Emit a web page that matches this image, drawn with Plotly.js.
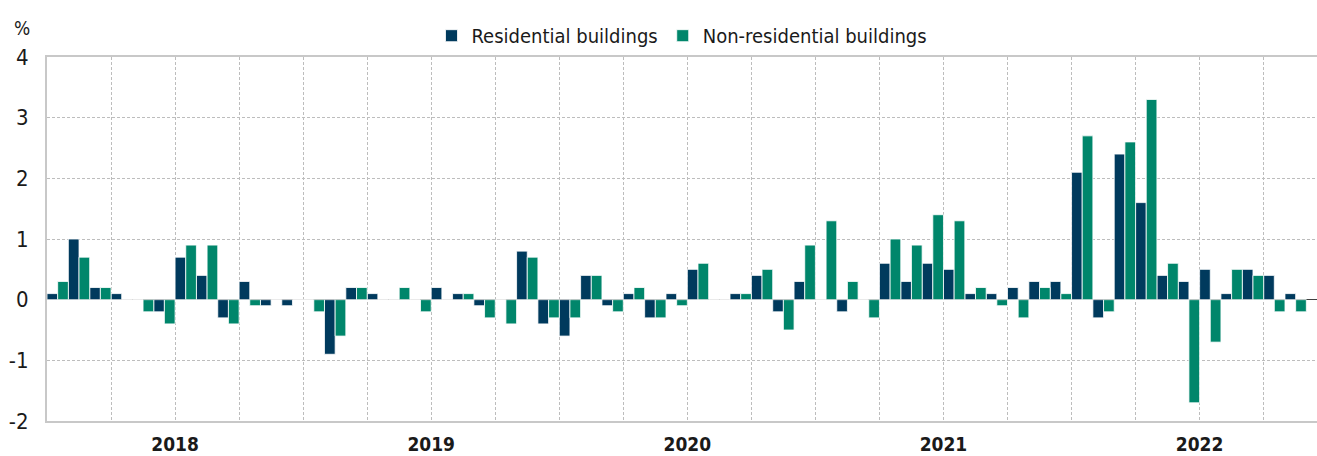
<!DOCTYPE html>
<html>
<head>
<meta charset="utf-8">
<script src="https://cdn.plot.ly/plotly-3.0.1.min.js"></script>
<style>
  html, body { margin: 0; padding: 0; background: #ffffff; }
  #chart { width: 1317px; height: 456px; }
</style>
</head>
<body>
<div id="chart"></div>
<script>
// Monthly categories (year-month)
const categories = [
  "2017-07","2017-08","2017-09","2017-10","2017-11","2017-12",
  "2018-01","2018-02","2018-03","2018-04","2018-05","2018-06",
  "2018-07","2018-08","2018-09","2018-10","2018-11","2018-12",
  "2019-01","2019-02","2019-03","2019-04","2019-05","2019-06",
  "2019-07","2019-08","2019-09","2019-10","2019-11","2019-12",
  "2020-01","2020-02","2020-03","2020-04","2020-05","2020-06",
  "2020-07","2020-08","2020-09","2020-10","2020-11","2020-12",
  "2021-01","2021-02","2021-03","2021-04","2021-05","2021-06",
  "2021-07","2021-08","2021-09","2021-10","2021-11","2021-12",
  "2022-01","2022-02","2022-03","2022-04","2022-05"
];

// Residential buildings (%)
const residential = [
  0.1, 1.0, 0.2, 0.1, 0.0, -0.2,
  0.7, 0.4, -0.3, 0.3, -0.1, -0.1,
  0.0, -0.9, 0.2, 0.1, 0.0, 0.0,
  0.2, 0.1, -0.1, 0.0, 0.8, -0.4,
  -0.6, 0.4, -0.1, 0.1, -0.3, 0.1,
  0.5, 0.0, 0.1, 0.4, -0.2, 0.3,
  0.0, -0.2, 0.0, 0.6, 0.3, 0.6,
  0.5, 0.1, 0.1, 0.2, 0.3, 0.3,
  2.1, -0.3, 2.4, 1.6, 0.4, 0.3,
  0.5, 0.1, 0.5, 0.4, 0.1
];

// Non-residential buildings (%)
const nonResidential = [
  0.3, 0.7, 0.2, 0.0, -0.2, -0.4,
  0.9, 0.9, -0.4, -0.1, 0.0, 0.0,
  -0.2, -0.6, 0.2, 0.0, 0.2, -0.2,
  0.0, 0.1, -0.3, -0.4, 0.7, -0.3,
  -0.3, 0.4, -0.2, 0.2, -0.3, -0.1,
  0.6, 0.0, 0.1, 0.5, -0.5, 0.9,
  1.3, 0.3, -0.3, 1.0, 0.9, 1.4,
  1.3, 0.2, -0.1, -0.3, 0.2, 0.1,
  2.7, -0.2, 2.6, 3.3, 0.6, -1.7,
  -0.7, 0.5, 0.4, -0.2, -0.2
];

// Tick labels
const yearLabels = ["2018", "2019", "2020", "2021", "2022"];
const yTickValues = [-2, -1, 0, 1, 2, 3, 4];
const yTickLabels = ["-2", "-1", "0", "1", "2", "3", "4"];
const seriesNames = ["Residential buildings", "Non-residential buildings"];

const FONT = '"Liberation Sans Narrow", "Arial Narrow", "DejaVu Sans Condensed", "Liberation Sans", sans-serif';

const xIdx = categories.map((c, i) => i);

// quarter boundaries for gridlines, year labels at January boundaries
const tickvals = [];
const ticktext = [];
categories.forEach((c, i) => {
  const m = c.slice(5);
  if (m === "01" || m === "04" || m === "07" || m === "10") {
    tickvals.push(i - 0.5);
    const y = c.slice(0, 4);
    ticktext.push(m === "01" && yearLabels.includes(y) ? "<b>" + y + "</b>" : "");
  }
});

const traces = [
  {
    type: "bar",
    name: seriesNames[0],
    x: xIdx,
    y: residential,
    marker: { color: "#003a5d", line: { color: "#ffffff", width: 0.8 } },
    hoverinfo: "skip"
  },
  {
    type: "bar",
    name: seriesNames[1],
    x: xIdx,
    y: nonResidential,
    marker: { color: "#00866b", line: { color: "#ffffff", width: 0.8 } },
    hoverinfo: "skip"
  }
];

const layout = {
  width: 1317,
  height: 456,
  margin: { l: 47, r: 0, t: 57, b: 35, pad: 0 },
  paper_bgcolor: "#ffffff",
  plot_bgcolor: "#ffffff",
  font: { family: FONT, size: 20, color: "#1a1a1a" },
  barmode: "group",
  bargap: 0,
  bargroupgap: 0,
  showlegend: true,
  legend: {
    orientation: "h",
    x: 0.5,
    xanchor: "center",
    y: 1.005,
    yanchor: "bottom",
    xref: "paper",
    yref: "paper",
    font: { family: FONT, size: 20, color: "#1a1a1a" },
    bgcolor: "rgba(0,0,0,0)",
    traceorder: "normal",
    itemwidth: 30
  },
  xaxis: {
    type: "linear",
    range: [-0.5, 59.0],
    tickmode: "array",
    tickvals: tickvals,
    ticktext: ticktext,
    ticks: "",
    showgrid: true,
    gridcolor: "#bdbdbd",
    gridwidth: 1,
    griddash: "3px,2px",
    zeroline: false,
    showline: true,
    linecolor: "#c8c8c8",
    linewidth: 2,
    mirror: true,
    tickfont: { family: FONT, size: 19, color: "#1a1a1a" },
    ticklabelstandoff: 5
  },
  yaxis: {
    range: [-2, 4],
    tickmode: "array",
    tickvals: yTickValues,
    ticktext: yTickLabels,
    ticks: "",
    showgrid: true,
    gridcolor: "#bdbdbd",
    gridwidth: 1,
    griddash: "3px,2px",
    zeroline: true,
    zerolinecolor: "#404040",
    zerolinewidth: 1.5,
    showline: true,
    linecolor: "#c8c8c8",
    linewidth: 2,
    mirror: false,
    tickfont: { family: FONT, size: 22, color: "#1a1a1a" },
    ticklabelstandoff: 12
  },
  annotations: [
    {
      text: "%",
      xref: "paper",
      yref: "paper",
      x: -0.0195,
      y: 1.045,
      xanchor: "center",
      yanchor: "bottom",
      showarrow: false,
      font: { family: FONT, size: 19, color: "#1a1a1a" }
    }
  ]
};

Plotly.newPlot("chart", traces, layout, { staticPlot: true, displayModeBar: false });
</script>
</body>
</html>
